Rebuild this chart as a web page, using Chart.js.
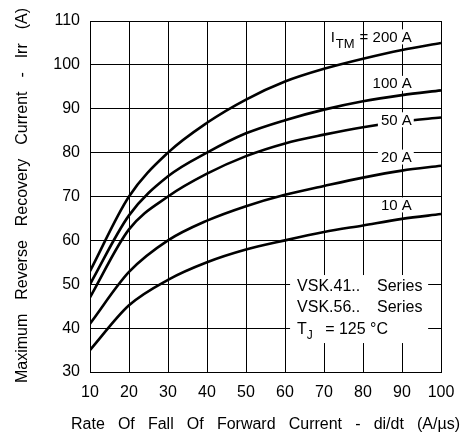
<!DOCTYPE html>
<html>
<head>
<meta charset="utf-8">
<script src="https://cdn.jsdelivr.net/npm/chart.js@4/dist/chart.umd.min.js"></script>
<style>
html, body { margin: 0; padding: 0; background: #fff; }
#wrap { width: 470px; height: 435px; }
</style>
</head>
<body>
<div id="wrap"><canvas id="irr-chart" width="470" height="435"></canvas></div>
<script>
// di/dt (A/us) and Irr (A)
var rates = [10, 20, 30, 40, 50, 60, 70, 80, 90, 100];
var irr200 = [53, 70, 80, 86.8, 92.1, 96.2, 99.1, 101.4, 103.4, 105.0];
var irr100 = [50, 65.7, 74.6, 80, 84.4, 87.4, 89.8, 91.7, 93.1, 94.2];
var irr50 = [47, 62.5, 70, 75.2, 79.2, 82.1, 84.1, 85.8, 87.1, 88.0];
var irr20 = [41, 52.8, 60, 64.5, 67.8, 70.4, 72.4, 74.3, 75.9, 77.0];
var irr10 = [35, 45.2, 51.0, 55.0, 57.9, 60.0, 61.9, 63.4, 64.9, 66.0];
var seriesNames = ['200 A', '100 A', '50 A', '20 A', '10 A'];
var seriesValues = [irr200, irr100, irr50, irr20, irr10];
var xTitle = 'Rate Of Fall Of Forward Current - di/dt (A/µs)';
var yTitle = 'Maximum Reverse Recovery Current - Irr (A)';

var FONT = '"Liberation Sans", Arial, sans-serif';

var datasets = seriesValues.map(function (vals, i) {
    return {
        label: seriesNames[i],
        data: rates.map(function (r, j) { return { x: r, y: vals[j] }; }),
        borderColor: '#000',
        borderWidth: 2.6,
        pointRadius: 0,
        fill: false,
        cubicInterpolationMode: 'monotone'
    };
});

// draws every word of a line so that it fills from a to b
function spread(ctx, text, a, b) {
    var words = text.split(' ');
    var total = 0;
    words.forEach(function (w) { total += ctx.measureText(w).width; });
    var gap = (b - a - total) / (words.length - 1);
    var x = a;
    words.forEach(function (w) {
        ctx.fillText(w, x, 0);
        x += ctx.measureText(w).width + gap;
    });
}

var notes = {
    id: 'notes',
    afterDatasetsDraw: function (chart) {
        var ctx = chart.ctx, xs = chart.scales.x, ys = chart.scales.y;
        ctx.save();
        ctx.fillStyle = '#000';
        ctx.textBaseline = 'alphabetic';

        // curve labels, right aligned near di/dt = 92.5
        var labelY = [106.5, 95.9, 87.6, 79.1, 68.2];
        var right = xs.getPixelForValue(92.5);
        ctx.font = '15px ' + FONT;
        seriesNames.forEach(function (name, i) {
            var cy = ys.getPixelForValue(labelY[i]);
            var w = ctx.measureText(name).width;
            ctx.fillStyle = '#fff';
            ctx.fillRect(right - w - 3, cy - 7, w + 5, 15);
            ctx.fillStyle = '#000';
            ctx.textAlign = 'right';
            ctx.fillText(name, right, cy + 5.5);
            if (i === 0) {
                var x = right - w - ctx.measureText('= ').width;
                ctx.textAlign = 'left';
                ctx.fillText('=', x, cy + 5.5);
                ctx.font = '13px ' + FONT;
                ctx.textAlign = 'right';
                ctx.fillText('TM', x - 5, cy + 12);
                var tm = ctx.measureText('TM').width;
                ctx.font = '15px ' + FONT;
                ctx.fillText('I', x - 6 - tm, cy + 5.5);
            }
        });

        // note box
        var bx0 = xs.getPixelForValue(61.3), bx1 = xs.getPixelForValue(96.7);
        var by0 = ys.getPixelForValue(52.1), by1 = ys.getPixelForValue(36.6);
        ctx.fillStyle = '#fff';
        ctx.fillRect(bx0, by0, bx1 - bx0, by1 - by0);
        ctx.fillStyle = '#000';
        ctx.textAlign = 'left';
        ctx.font = '16px ' + FONT;
        var tx = xs.getPixelForValue(63.1), sx = xs.getPixelForValue(83.6);
        var l1 = ys.getPixelForValue(49.8) + 6, l2 = ys.getPixelForValue(45.0) + 6, l3 = ys.getPixelForValue(40.0) + 6;
        ctx.fillText('VSK.41..', tx, l1);
        ctx.fillText('Series', sx, l1);
        ctx.fillText('VSK.56..', tx, l2);
        ctx.fillText('Series', sx, l2);
        ctx.fillText('T', tx, l3);
        var tw = ctx.measureText('T').width;
        ctx.font = '12px ' + FONT;
        ctx.fillText('J', tx + tw, l3 + 5);
        ctx.font = '16px ' + FONT;
        ctx.fillText('= 125 °C', xs.getPixelForValue(70.3), l3);

        // axis titles
        ctx.font = '16px ' + FONT;
        ctx.save();
        ctx.translate(0, 429);
        spread(ctx, xTitle, xs.left - 19, xs.right + 19);
        ctx.restore();
        ctx.save();
        ctx.translate(27, 383);
        ctx.rotate(-Math.PI / 2);
        spread(ctx, yTitle, 0, 375);
        ctx.restore();

        ctx.restore();
    }
};

var chart = new Chart(document.getElementById('irr-chart').getContext('2d'), {
    type: 'line',
    data: { datasets: datasets },
    options: {
        responsive: false,
        animation: false,
        layout: { padding: { top: 21, right: 29, left: 0, bottom: 0 } },
        plugins: { legend: { display: false }, tooltip: { enabled: false } },
        scales: {
            x: {
                type: 'linear',
                min: 10,
                max: 100,
                afterFit: function (s) { s.height = 63; },
                ticks: { stepSize: 10, color: '#000', padding: 11, autoSkip: false, maxRotation: 0, font: { family: FONT, size: 16 } },
                grid: { color: '#000', lineWidth: 1, drawTicks: false },
                border: { color: '#000', width: 1 }
            },
            y: {
                min: 30,
                max: 110,
                afterFit: function (s) { s.width = 90; },
                ticks: { stepSize: 10, color: '#000', padding: 10, font: { family: FONT, size: 16 } },
                grid: { color: '#000', lineWidth: 1, drawTicks: false },
                border: { color: '#000', width: 1 }
            }
        }
    },
    plugins: [notes]
});
</script>
</body>
</html>
